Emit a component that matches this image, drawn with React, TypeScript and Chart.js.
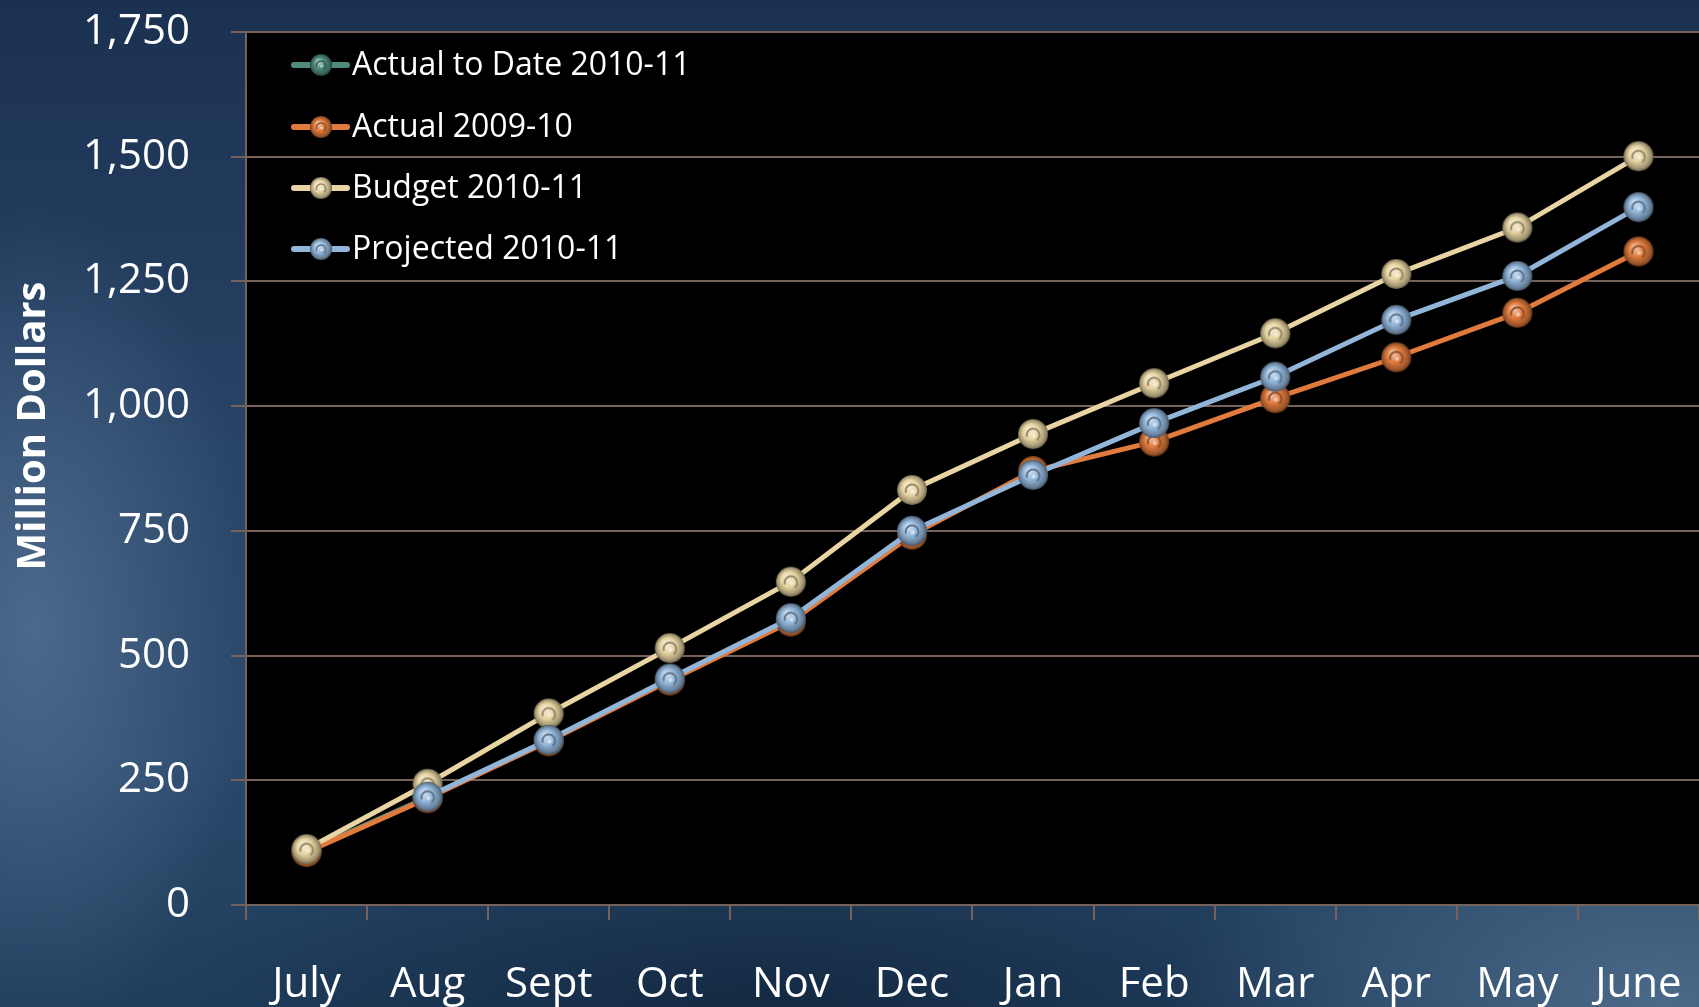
import React, { useEffect, useRef } from 'react';
import { Chart, registerables } from 'chart.js';

Chart.register(...registerables);

// ---- Data ----
const months = ['July', 'Aug', 'Sept', 'Oct', 'Nov', 'Dec', 'Jan', 'Feb', 'Mar', 'Apr', 'May', 'June'];
const actualToDate2010_11 = [108, 216, null, null, null, null, null, null, null, null, null, null];
const actual2009_10 = [106, 214, 328, 450, 568, 742, 870, 929, 1016, 1098, 1187, 1310];
const budget2010_11 = [112, 243, 384, 515, 648, 832, 944, 1046, 1146, 1265, 1358, 1501];
const projected2010_11 = [null, 217, 331, 454, 575, 750, 862, 966, 1059, 1173, 1261, 1399];
const seriesLabels = ['Actual to Date 2010-11', 'Actual 2009-10', 'Budget 2010-11', 'Projected 2010-11'];
const yMin = 0;
const yMax = 1750;
const yStep = 250;
const yTitle = 'Million Dollars';

// ---- Styles ----
const W = 1699;
const H = 1007;
const colors = ['#4d8a7c', '#e07b3d', '#e8d5a3', '#92b6da'];
const gridColor = '#76625a';
const FONT = "'Open Sans', 'DejaVu Sans', sans-serif";

function shade(hex: string, amt: number): string {
  const n = parseInt(hex.slice(1), 16);
  let r = (n >> 16) & 255, g = (n >> 8) & 255, b = n & 255;
  if (amt >= 0) {
    r = Math.round(r + (255 - r) * amt);
    g = Math.round(g + (255 - g) * amt);
    b = Math.round(b + (255 - b) * amt);
  } else {
    r = Math.round(r * (1 + amt));
    g = Math.round(g * (1 + amt));
    b = Math.round(b * (1 + amt));
  }
  return `rgb(${r},${g},${b})`;
}

function makeBead(color: string, radius: number): HTMLCanvasElement {
  const size = Math.ceil(radius * 2 + 2);
  const c = document.createElement('canvas');
  c.width = size;
  c.height = size;
  const ctx = c.getContext('2d')!;
  const cx = size / 2, cy = size / 2;
  const g = ctx.createRadialGradient(cx - radius * 0.25, cy - radius * 0.3, radius * 0.1, cx, cy, radius);
  g.addColorStop(0, shade(color, 0.55));
  g.addColorStop(0.45, color);
  g.addColorStop(0.85, shade(color, -0.3));
  g.addColorStop(1, shade(color, -0.55));
  ctx.fillStyle = g;
  ctx.beginPath();
  ctx.arc(cx, cy, radius, 0, Math.PI * 2);
  ctx.fill();
  ctx.strokeStyle = shade(color, -0.35);
  ctx.lineWidth = Math.max(1.5, radius * 0.14);
  ctx.beginPath();
  ctx.arc(cx, cy + radius * 0.05, radius * 0.42, Math.PI * 0.9, Math.PI * 2.3);
  ctx.stroke();
  ctx.fillStyle = shade(color, 0.6);
  ctx.beginPath();
  ctx.arc(cx + radius * 0.05, cy + radius * 0.1, radius * 0.13, 0, Math.PI * 2);
  ctx.fill();
  return c;
}

export default function App() {
  const ref = useRef<HTMLCanvasElement | null>(null);

  useEffect(() => {
    if (!ref.current) return;
    const beads = colors.map((c) => makeBead(c, 15));
    const legendBeads = colors.map((c) => makeBead(c, 11));
    const seriesData = [actualToDate2010_11, actual2009_10, budget2010_11, projected2010_11];
    const drawOrder = [3, 2, 1, 0];

    const chartBg = {
      id: 'chartBg',
      beforeDraw(chart: any) {
        const { ctx, chartArea } = chart;
        ctx.save();
        ctx.fillStyle = '#000000';
        ctx.fillRect(chartArea.left, chartArea.top, chartArea.right - chartArea.left, chartArea.bottom - chartArea.top);
        ctx.restore();
      },
    };

    const overlay = {
      id: 'overlay',
      afterDraw(chart: any) {
        const { ctx } = chart;
        ctx.save();
        ctx.translate(34, 426);
        ctx.rotate(-Math.PI / 2);
        ctx.fillStyle = '#ffffff';
        ctx.font = `bold 40px ${FONT}`;
        ctx.textAlign = 'center';
        ctx.textBaseline = 'middle';
        ctx.fillText(yTitle, 0, 0);
        ctx.restore();

        ctx.save();
        const rows = [65, 127, 188, 249];
        chart.data.datasets.forEach((ds: any, i: number) => {
          const y = rows[i];
          ctx.strokeStyle = ds.borderColor;
          ctx.lineWidth = 6;
          ctx.lineCap = 'round';
          ctx.beginPath();
          ctx.moveTo(294, y);
          ctx.lineTo(347, y);
          ctx.stroke();
          const b = legendBeads[i];
          ctx.drawImage(b, 321 - b.width / 2, y - b.height / 2);
          ctx.fillStyle = '#ffffff';
          ctx.font = `32px ${FONT}`;
          ctx.textAlign = 'left';
          ctx.textBaseline = 'middle';
          ctx.fillText(ds.label, 352, y + 1);
        });
        ctx.restore();
      },
    };

    const chart = new Chart(ref.current, {
      type: 'line',
      data: {
        labels: months,
        datasets: seriesData.map((d, i) => ({
          label: seriesLabels[i],
          data: d,
          borderColor: colors[i],
          backgroundColor: colors[i],
          borderWidth: 5,
          pointStyle: beads[i],
          pointRadius: 15,
          pointHoverRadius: 15,
          tension: 0,
          fill: false,
          order: drawOrder[i],
        })),
      },
      options: {
        responsive: false,
        animation: false,
        maintainAspectRatio: false,
        layout: { autoPadding: false, padding: { top: 32, right: 0, left: 0, bottom: 0 } },
        plugins: {
          legend: { display: false },
          tooltip: { enabled: false },
          title: { display: false },
        },
        scales: {
          x: {
            type: 'category',
            offset: true,
            grid: {
              display: true,
              drawOnChartArea: false,
              drawTicks: true,
              tickLength: 15,
              color: gridColor,
              lineWidth: 2,
              offset: true,
            },
            border: { display: true, color: gridColor, width: 2 },
            ticks: {
              color: '#ffffff',
              font: { family: FONT, size: 42 },
              padding: 40,
              maxRotation: 0,
              minRotation: 0,
              autoSkip: false,
            },
            afterFit(scale: any) {
              scale.height = H - 905;
              scale.paddingLeft = 0;
              scale.paddingRight = 0;
            },
          },
          y: {
            min: yMin,
            max: yMax,
            grid: {
              display: true,
              drawOnChartArea: true,
              drawTicks: true,
              tickLength: 15,
              color: gridColor,
              lineWidth: 2,
            },
            border: { display: true, color: gridColor, width: 2 },
            ticks: {
              stepSize: yStep,
              color: '#ffffff',
              font: { family: FONT, size: 42 },
              padding: 41,
              callback: (v: any) => Number(v).toLocaleString('en-US'),
            },
            afterFit(scale: any) {
              scale.width = 246;
              scale.paddingTop = 0;
              scale.paddingBottom = 0;
            },
          },
        },
      },
      plugins: [chartBg, overlay],
    } as any);

    return () => chart.destroy();
  }, []);

  return (
    <div
      style={{
        position: 'fixed',
        left: 0,
        top: 0,
        width: W,
        height: H,
        overflow: 'hidden',
        background:
          'radial-gradient(ellipse 220px 420px at 2% 62%, rgba(110,140,175,0.5), rgba(110,140,175,0) 100%),' +
          'radial-gradient(ellipse 500px 260px at 98% 100%, rgba(120,150,180,0.5), rgba(120,150,180,0) 100%),' +
          'radial-gradient(ellipse 600px 200px at 45% 100%, rgba(10,25,45,0.55), rgba(10,25,45,0) 100%),' +
          'linear-gradient(180deg, #1b3152 0%, #284466 45%, #2a4869 75%, #1f3d5c 100%)',
      }}
    >
      <canvas ref={ref} width={W} height={H} style={{ display: 'block', width: W, height: H }} />
    </div>
  );
}
